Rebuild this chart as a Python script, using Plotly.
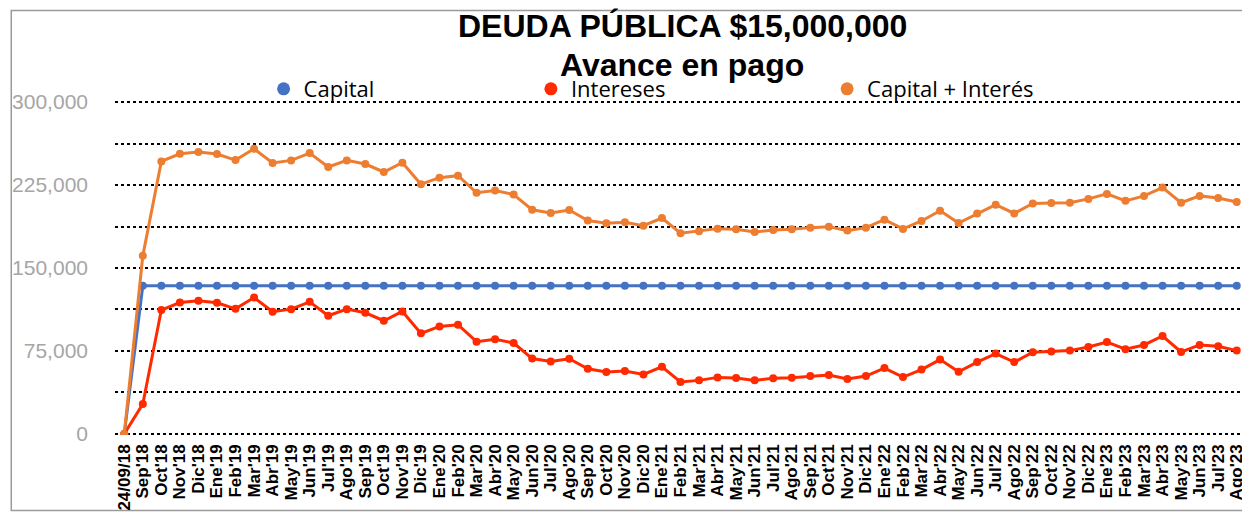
import plotly.graph_objects as go

categories = ["24/09/18",
    "Sep'18", "Oct'18", "Nov'18", "Dic'18",
    "Ene'19", "Feb'19", "Mar'19", "Abr'19", "May'19", "Jun'19", "Jul'19", "Ago'19", "Sep'19", "Oct'19", "Nov'19", "Dic'19",
    "Ene'20", "Feb'20", "Mar'20", "Abr'20", "May'20", "Jun'20", "Jul'20", "Ago'20", "Sep'20", "Oct'20", "Nov'20", "Dic'20",
    "Ene'21", "Feb'21", "Mar'21", "Abr'21", "May'21", "Jun'21", "Jul'21", "Ago'21", "Sep'21", "Oct'21", "Nov'21", "Dic'21",
    "Ene'22", "Feb'22", "Mar'22", "Abr'22", "May'22", "Jun'22", "Jul'22", "Ago'22", "Sep'22", "Oct'22", "Nov'22", "Dic'22",
    "Ene'23", "Feb'23", "Mar'23", "Abr'23", "May'23", "Jun'23", "Jul'23", "Ago'23"]

capital = [0,
    133900, 133900, 133900, 133900,
    133900, 133900, 133900, 133900, 133900, 133900, 133900, 133900, 133900, 133900, 133900, 133900,
    133900, 133900, 133900, 133900, 133900, 133900, 133900, 133900, 133900, 133900, 133900, 133900,
    133900, 133900, 133900, 133900, 133900, 133900, 133900, 133900, 133900, 133900, 133900, 133900,
    133900, 133900, 133900, 133900, 133900, 133900, 133900, 133900, 133900, 133900, 133900, 133900,
    133900, 133900, 133900, 133900, 133900, 133900, 133900, 133900]

intereses = [0,
    27000, 112000, 118800, 120300,
    118500, 113100, 123300, 110400, 112800, 119400, 106800, 112800, 109500, 102300, 110700, 90900,
    97200, 98700, 83400, 85500, 82200, 68100, 65400, 67900, 58900, 55900, 56800, 53700,
    60700, 46900, 48400, 51100, 50500, 48400, 50200, 50800, 52300, 53200, 49600, 52300,
    59500, 51400, 58200, 67200, 56200, 64900, 72600, 64900, 73900, 74400, 75300, 78600,
    83100, 76600, 80400, 88500, 74100, 80400, 79300, 75300]

capital_interes = [0,
    161000, 246400, 253300, 254800,
    253000, 247600, 257800, 244900, 247300, 253900, 241300, 247300, 244000, 236800, 245200, 225700,
    231700, 233500, 218000, 220000, 216400, 202700, 199700, 202400, 193000, 190400, 191300, 188300,
    195200, 181400, 183200, 185600, 185000, 182600, 184400, 185000, 186500, 187400, 183800, 186500,
    193700, 185300, 192500, 201800, 190700, 199300, 207200, 199300, 208300, 208700, 209000, 212500,
    217000, 210700, 215200, 222700, 209000, 215200, 213200, 209600]

y_tickvals = [0, 37500, 75000, 112500, 150000, 187500, 225000, 262500, 300000]
y_ticktext = ["0", "", "75,000", "", "150,000", "", "225,000", "", "300,000"]

title_line1 = "<b>DEUDA PÚBLICA $15,000,000</b>"
title_line2 = "<b>Avance en pago</b>"

# page has an 8px body margin; figure sized to fill the rest of the window
OFF = 8
W, H = 1250 - OFF, 515 - OFF
L, R, T, B = 104, 4, 93, 78
pw = W - L - R
ph = H - T - B
Y_PAD = 1000  # small pad so the 0 and 300,000 gridlines are drawn

def px_x(x_page):
    return (x_page - OFF - L) / pw

def px_y(y_page):
    return (H - B - (y_page - OFF)) / ph

fig = go.Figure()
series = [
    ("Capital", capital, "#4472C4", "legend"),
    ("Intereses", intereses, "#FF2A00", "legend2"),
    ("Capital + Interés", capital_interes, "#ED7D31", "legend3"),
]
for name, vals, col, lg in series:
    fig.add_trace(go.Scatter(
        x=categories, y=vals, name=name, mode="lines+markers",
        line=dict(color=col, width=3),
        marker=dict(color=col, size=8),
        showlegend=False,
    ))
for name, vals, col, lg in series:
    fig.add_trace(go.Scatter(
        x=[None], y=[None], name=name, mode="markers",
        marker=dict(color=col, size=13),
        legend=lg, showlegend=True,
    ))

legend_common = dict(
    orientation="h", yanchor="middle", y=px_y(89), xanchor="left",
    font=dict(family="Open Sans", size=22, color="#000000"),
    bgcolor="rgba(0,0,0,0)", borderwidth=0,
)
title_font = dict(family="Liberation Sans, Arial", size=32, color="#000000")
fig.update_layout(
    width=W, height=H,
    margin=dict(l=L, r=R, t=T, b=B),
    paper_bgcolor="white", plot_bgcolor="white",
    legend=dict(x=px_x(281 - 20), **legend_common),
    legend2=dict(x=px_x(549 - 20), **legend_common),
    legend3=dict(x=px_x(846 - 20), **legend_common),
    annotations=[
        dict(text=title_line1, xref="paper", yref="paper", x=px_x(681), y=px_y(26),
             xanchor="center", yanchor="middle", showarrow=False, font=title_font),
        dict(text=title_line2, xref="paper", yref="paper", x=px_x(681), y=px_y(65),
             xanchor="center", yanchor="middle", showarrow=False, font=title_font),
    ],
    xaxis=dict(
        type="category", tickmode="array", tickvals=categories, ticktext=categories,
        range=[-0.5, len(categories) - 0.5],
        tickangle=-90, showgrid=False, zeroline=False, showline=False, ticks="",
        tickfont=dict(family="Liberation Sans, Arial", size=17, color="#000000", weight="bold"),
        ticklabelstandoff=5,
    ),
    yaxis=dict(
        range=[-Y_PAD, 300000 + Y_PAD], tickmode="array", tickvals=y_tickvals, ticktext=y_ticktext,
        showgrid=True, gridcolor="#000000", gridwidth=2, griddash="dot",
        zeroline=False, showline=False, ticks="",
        tickfont=dict(family="Liberation Sans, Arial", size=21, color="#A6A6A6"),
        ticklabelstandoff=26,
    ),
    shapes=[dict(type="rect", xref="paper", yref="paper",
                 x0=px_x(8), x1=px_x(1248), y0=px_y(513), y1=px_y(10),
                 line=dict(color="#9A9A9A", width=1.5), layer="below")],
)

fig.write_html("out.html")
